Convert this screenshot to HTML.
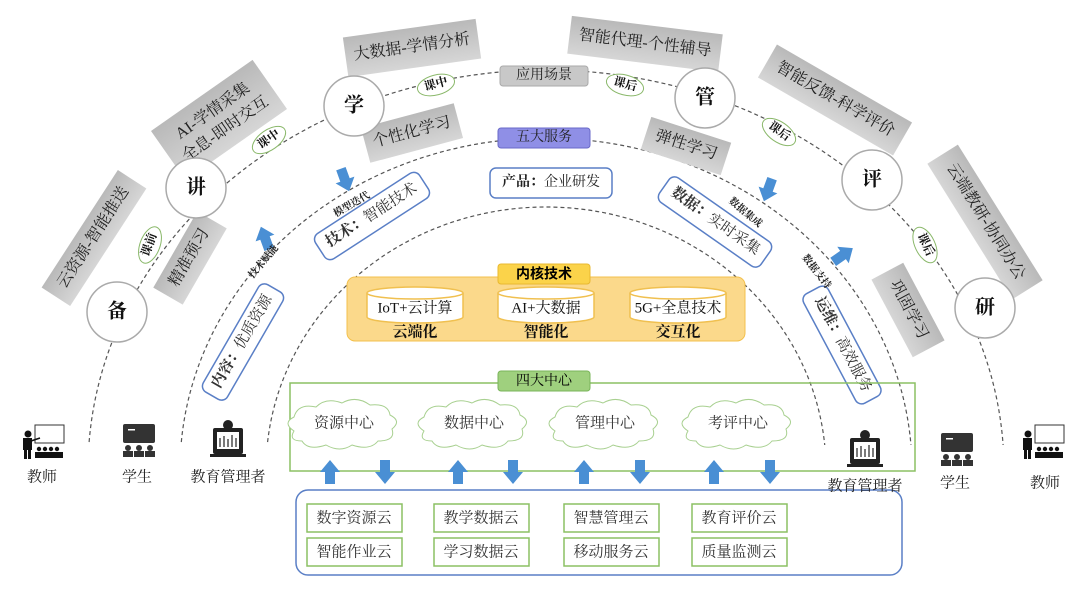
<!DOCTYPE html>
<html><head><meta charset="utf-8"><style>
html,body{margin:0;padding:0;background:#fff;}
svg text{font-family:"Liberation Serif","Noto Serif CJK SC","Noto Sans CJK SC",serif;}
.s{font-family:"Liberation Sans","Noto Sans CJK SC",sans-serif;}
</style></head><body>
<svg width="1080" height="584" viewBox="0 0 1080 584" xmlns="http://www.w3.org/2000/svg">
<defs>
<linearGradient id="g" x1="0" y1="0" x2="0" y2="1"><stop offset="0" stop-color="#b9b9b9"/><stop offset="1" stop-color="#d6d6d6"/></linearGradient>
<g id="au"><polygon points="-5,12 -5,0 -10,0 0,-12 10,0 5,0 5,12" fill="#4a8fd4"/></g>
<clipPath id="cp"><rect x="0" y="0" width="1080" height="445"/></clipPath>
</defs>
<rect width="1080" height="584" fill="#fff"/>
<!-- arcs -->
<g fill="none" stroke="#555" stroke-width="1.2" stroke-dasharray="4,3" clip-path="url(#cp)">
<path d="M88,470 A458,400 0 0 1 1004,470"/>
<path d="M180,470 A366,332 0 0 1 912,470"/>
<path d="M266,470 A280,263 0 0 1 826,470"/>
</g>
<!-- gray boxes -->
<g font-size="16" fill="#222" text-anchor="middle" dominant-baseline="middle">
<g transform="translate(412,48) rotate(-8)"><rect x="-67" y="-20" width="134" height="40" fill="url(#g)"/><text>大数据-学情分析</text></g>
<g transform="translate(412,133) rotate(-15)"><rect x="-48" y="-18" width="96" height="36" fill="url(#g)"/><text>个性化学习</text></g>
<g transform="translate(645,44) rotate(7)"><rect x="-76" y="-19" width="152" height="38" fill="url(#g)"/><text>智能代理-个性辅导</text></g>
<g transform="translate(686,146) rotate(18)"><rect x="-42" y="-17" width="84" height="34" fill="url(#g)"/><text>弹性学习</text></g>
<g transform="translate(835,100) rotate(30)"><rect x="-78" y="-19" width="156" height="38" fill="url(#g)"/><text>智能反馈-科学评价</text></g>
<g transform="translate(219,120) rotate(-35)"><rect x="-62" y="-30" width="124" height="60" fill="url(#g)"/><text y="-10">AI-学情采集</text><text y="12">全息-即时交互</text></g>
<g transform="translate(94,238) rotate(-57)"><rect x="-70" y="-17" width="140" height="34" fill="url(#g)"/><text>云资源-智能推送</text></g>
<g transform="translate(190,258) rotate(-60)"><rect x="-44" y="-17" width="88" height="34" fill="url(#g)"/><text>精准预习</text></g>
<g transform="translate(985,222) rotate(58)"><rect x="-80" y="-18" width="160" height="36" fill="url(#g)"/><text>云端教研-协同办公</text></g>
<g transform="translate(908,310) rotate(62)"><rect x="-44" y="-18" width="88" height="36" fill="url(#g)"/><text>巩固学习</text></g>
</g>
<!-- circles -->
<g fill="#fff" stroke="#aaa" stroke-width="1.5">
<circle cx="117" cy="312" r="30"/><circle cx="196" cy="188" r="30"/><circle cx="354" cy="106" r="30"/>
<circle cx="705" cy="98" r="30"/><circle cx="872" cy="180" r="30"/><circle cx="985" cy="308" r="30"/>
</g>
<g font-size="20" font-weight="bold" fill="#111" text-anchor="middle" dominant-baseline="middle">
<text x="117" y="313">备</text><text x="196" y="189">讲</text><text x="354" y="107">学</text>
<text x="705" y="99">管</text><text x="872" y="181">评</text><text x="985" y="309">研</text>
</g>
<!-- ovals -->
<g font-size="12" font-weight="bold" fill="#111" text-anchor="middle" dominant-baseline="middle">
<g transform="translate(150,245) rotate(-70)"><ellipse rx="19" ry="10" fill="#fff" stroke="#8ab86a"/><text>课前</text></g>
<g transform="translate(269,140) rotate(-35)"><ellipse rx="19" ry="10" fill="#fff" stroke="#8ab86a"/><text>课中</text></g>
<g transform="translate(436,85) rotate(-15)"><ellipse rx="19" ry="10" fill="#fff" stroke="#8ab86a"/><text>课中</text></g>
<g transform="translate(625,85) rotate(15)"><ellipse rx="19" ry="10" fill="#fff" stroke="#8ab86a"/><text>课后</text></g>
<g transform="translate(779,132) rotate(35)"><ellipse rx="19" ry="10" fill="#fff" stroke="#8ab86a"/><text>课后</text></g>
<g transform="translate(925,245) rotate(65)"><ellipse rx="19" ry="10" fill="#fff" stroke="#8ab86a"/><text>课后</text></g>
</g>
<!-- labels top -->
<g font-size="14" text-anchor="middle" dominant-baseline="middle" fill="#222">
<rect x="500" y="66" width="88" height="20" rx="3" fill="#c8c8c8" stroke="#aaa"/><text x="544" y="76">应用场景</text>
<rect x="498" y="128" width="92" height="20" rx="3" fill="#8f8fe6" stroke="#6a6ac8"/><text x="544" y="138">五大服务</text>
<rect x="490" y="168" width="122" height="30" rx="6" fill="#fff" stroke="#5a7fc6" stroke-width="1.5"/><text x="551" y="183"><tspan font-weight="bold">产品：</tspan>企业研发</text>
</g>
<!-- blue rotated boxes -->
<g font-size="15" text-anchor="middle" dominant-baseline="middle" fill="#333">
<g transform="translate(372,216) rotate(-33)"><rect x="-62" y="-15" width="124" height="30" rx="7" fill="#fff" stroke="#5a7fc6" stroke-width="1.5"/><text><tspan font-weight="bold">技术：</tspan>智能技术</text></g>
<g transform="translate(715,222) rotate(35)"><rect x="-62" y="-15" width="124" height="30" rx="7" fill="#fff" stroke="#5a7fc6" stroke-width="1.5"/><text><tspan font-weight="bold">数据：</tspan>实时采集</text></g>
<g transform="translate(243,342) rotate(-60)"><rect x="-62" y="-14" width="124" height="28" rx="7" fill="#fff" stroke="#5a7fc6" stroke-width="1.5"/><text><tspan font-weight="bold">内容：</tspan>优质资源</text></g>
<g transform="translate(842,345) rotate(62)"><rect x="-62" y="-14" width="124" height="28" rx="7" fill="#fff" stroke="#5a7fc6" stroke-width="1.5"/><text><tspan font-weight="bold">运维：</tspan>高效服务</text></g>
</g>
<!-- small arrows -->
<use href="#au" transform="translate(345,180) rotate(160)"/>
<use href="#au" transform="translate(265,238) rotate(-20)"/>
<use href="#au" transform="translate(768,190) rotate(200)"/>
<use href="#au" transform="translate(843,255) rotate(55)"/>
<g font-size="10" font-weight="bold" fill="#222" text-anchor="middle" dominant-baseline="middle">
<text transform="translate(352,205) rotate(-30)">模型迭代</text>
<text transform="translate(264,262) rotate(-50)">技术赋能</text>
<text transform="translate(745,213) rotate(40)">数据集成</text>
<text transform="translate(816,272) rotate(52)">数据支持</text>
</g>
<!-- core -->
<rect x="347" y="277" width="398" height="64" rx="8" fill="#fbd98b" stroke="#f3c04c"/>
<rect x="498" y="264" width="92" height="20" rx="3" fill="#fbd34a" stroke="#e8b830"/>
<text x="544" y="275" font-size="14" font-weight="bold" text-anchor="middle" dominant-baseline="middle" class="s">内核技术</text>
<g fill="#fff" stroke="#f0c050" stroke-width="1.5">
<path d="M367,293 v24 a48,6 0 0 0 96,0 v-24"/><ellipse cx="415" cy="293" rx="48" ry="6"/>
<path d="M498,293 v24 a48,6 0 0 0 96,0 v-24"/><ellipse cx="546" cy="293" rx="48" ry="6"/>
<path d="M630,293 v24 a48,6 0 0 0 96,0 v-24"/><ellipse cx="678" cy="293" rx="48" ry="6"/>
</g>
<g font-size="15" text-anchor="middle" dominant-baseline="middle" fill="#111">
<text x="415" y="309">IoT+云计算</text><text x="546" y="309">AI+大数据</text><text x="678" y="309">5G+全息技术</text>
<g font-weight="bold" class="s" font-size="15"><text x="415" y="333">云端化</text><text x="546" y="333">智能化</text><text x="678" y="333">交互化</text></g>
</g>
<!-- four centers -->
<rect x="290" y="383" width="625" height="88" fill="none" stroke="#8cc063" stroke-width="1.5"/>
<rect x="498" y="371" width="92" height="20" rx="3" fill="#9fd07e" stroke="#7ab55a"/>
<text x="544" y="382" font-size="14" text-anchor="middle" dominant-baseline="middle">四大中心</text>
<path d="M-50,6 q-12,-8 0,-14 q4,-14 22,-10 q10,-10 26,-4 q14,-8 28,2 q18,-2 20,10 q12,6 2,14 q4,12 -14,12 q-8,10 -26,4 q-12,8 -26,0 q-18,6 -24,-4 q-14,0 -8,-10z" transform="translate(344,425)" fill="#fff" stroke="#a8d090"/>
<path d="M-50,6 q-12,-8 0,-14 q4,-14 22,-10 q10,-10 26,-4 q14,-8 28,2 q18,-2 20,10 q12,6 2,14 q4,12 -14,12 q-8,10 -26,4 q-12,8 -26,0 q-18,6 -24,-4 q-14,0 -8,-10z" transform="translate(474,425)" fill="#fff" stroke="#a8d090"/>
<path d="M-50,6 q-12,-8 0,-14 q4,-14 22,-10 q10,-10 26,-4 q14,-8 28,2 q18,-2 20,10 q12,6 2,14 q4,12 -14,12 q-8,10 -26,4 q-12,8 -26,0 q-18,6 -24,-4 q-14,0 -8,-10z" transform="translate(605,425)" fill="#fff" stroke="#a8d090"/>
<path d="M-50,6 q-12,-8 0,-14 q4,-14 22,-10 q10,-10 26,-4 q14,-8 28,2 q18,-2 20,10 q12,6 2,14 q4,12 -14,12 q-8,10 -26,4 q-12,8 -26,0 q-18,6 -24,-4 q-14,0 -8,-10z" transform="translate(738,425)" fill="#fff" stroke="#a8d090"/>
<g font-size="15" text-anchor="middle" dominant-baseline="middle" fill="#333">
<text x="344" y="424">资源中心</text><text x="474" y="424">数据中心</text><text x="605" y="424">管理中心</text><text x="738" y="424">考评中心</text>
</g>
<!-- big arrows -->
<use href="#au" transform="translate(330,472)"/><use href="#au" transform="translate(458,472)"/><use href="#au" transform="translate(584,472)"/><use href="#au" transform="translate(714,472)"/>
<use href="#au" transform="translate(385,472) rotate(180)"/><use href="#au" transform="translate(513,472) rotate(180)"/><use href="#au" transform="translate(640,472) rotate(180)"/><use href="#au" transform="translate(770,472) rotate(180)"/>
<!-- clouds box -->
<rect x="296" y="490" width="606" height="85" rx="12" fill="#fff" stroke="#5a7fc6" stroke-width="1.5"/>
<g fill="#fff" stroke="#8cc063" stroke-width="1.5">
<rect x="307" y="504" width="95" height="28"/><rect x="434" y="504" width="95" height="28"/><rect x="564" y="504" width="95" height="28"/><rect x="692" y="504" width="95" height="28"/>
<rect x="307" y="538" width="95" height="28"/><rect x="434" y="538" width="95" height="28"/><rect x="564" y="538" width="95" height="28"/><rect x="692" y="538" width="95" height="28"/>
</g>
<g font-size="15" text-anchor="middle" dominant-baseline="middle" fill="#333">
<text x="354" y="519">数字资源云</text><text x="481" y="519">教学数据云</text><text x="611" y="519">智慧管理云</text><text x="739" y="519">教育评价云</text>
<text x="354" y="553">智能作业云</text><text x="481" y="553">学习数据云</text><text x="611" y="553">移动服务云</text><text x="739" y="553">质量监测云</text>
</g>
<!-- people icons -->
<g fill="#111">
<rect x="35" y="425" width="29" height="18" fill="#fff" stroke="#333" stroke-width="1"/>
<circle cx="28" cy="434" r="3.5"/><rect x="23" y="438" width="9" height="12"/><rect x="24" y="449" width="3" height="10"/><rect x="28" y="449" width="3" height="10"/>
<line x1="31" y1="441" x2="40" y2="438" stroke="#111" stroke-width="1.5"/>
<circle cx="39" cy="449" r="2.2"/><circle cx="45" cy="449" r="2.2"/><circle cx="51" cy="449" r="2.2"/><circle cx="57" cy="449" r="2.2"/>
<rect x="35" y="452" width="28" height="6"/>
<g transform="translate(1000,0)"><rect x="35" y="425" width="29" height="18" fill="#fff" stroke="#333" stroke-width="1"/>
<circle cx="28" cy="434" r="3.5"/><rect x="23" y="438" width="9" height="12"/><rect x="24" y="449" width="3" height="10"/><rect x="28" y="449" width="3" height="10"/>
<circle cx="39" cy="449" r="2.2"/><circle cx="45" cy="449" r="2.2"/><circle cx="51" cy="449" r="2.2"/><circle cx="57" cy="449" r="2.2"/>
<rect x="35" y="452" width="28" height="6"/></g>
</g>
<g fill="#333">
<rect x="123" y="424" width="32" height="19" rx="2"/><rect x="128" y="429" width="7" height="1.5" fill="#fff"/>
<circle cx="128" cy="448" r="3"/><circle cx="139" cy="448" r="3"/><circle cx="150" cy="448" r="3"/>
<rect x="123" y="451" width="10" height="6"/><rect x="134" y="451" width="10" height="6"/><rect x="145" y="451" width="10" height="6"/>
<g transform="translate(818,9)"><rect x="123" y="424" width="32" height="19" rx="2"/><rect x="128" y="429" width="7" height="1.5" fill="#fff"/>
<circle cx="128" cy="448" r="3"/><circle cx="139" cy="448" r="3"/><circle cx="150" cy="448" r="3"/>
<rect x="123" y="451" width="10" height="6"/><rect x="134" y="451" width="10" height="6"/><rect x="145" y="451" width="10" height="6"/></g>
</g>
<g fill="#222">
<circle cx="228" cy="425" r="5"/><rect x="213" y="428" width="30" height="26" rx="2"/><rect x="217" y="432" width="22" height="17" fill="#fff"/>
<g stroke="#222" stroke-width="1.2"><line x1="220" y1="447" x2="220" y2="438"/><line x1="224" y1="447" x2="224" y2="436"/><line x1="228" y1="447" x2="228" y2="439"/><line x1="232" y1="447" x2="232" y2="435"/><line x1="236" y1="447" x2="236" y2="438"/></g>
<rect x="210" y="454" width="36" height="3"/>
<g transform="translate(637,10)"><circle cx="228" cy="425" r="5"/><rect x="213" y="428" width="30" height="26" rx="2"/><rect x="217" y="432" width="22" height="17" fill="#fff"/>
<g stroke="#222" stroke-width="1.2"><line x1="220" y1="447" x2="220" y2="438"/><line x1="224" y1="447" x2="224" y2="436"/><line x1="228" y1="447" x2="228" y2="439"/><line x1="232" y1="447" x2="232" y2="435"/><line x1="236" y1="447" x2="236" y2="438"/></g>
<rect x="210" y="454" width="36" height="3"/></g>
</g>
<g font-size="15" text-anchor="middle" dominant-baseline="middle" fill="#222" class="s">
<text x="42" y="478">教师</text><text x="137" y="478">学生</text><text x="228" y="478">教育管理者</text>
<text x="865" y="487">教育管理者</text><text x="955" y="484">学生</text><text x="1045" y="484">教师</text>
</g>
</svg>
</body></html>
